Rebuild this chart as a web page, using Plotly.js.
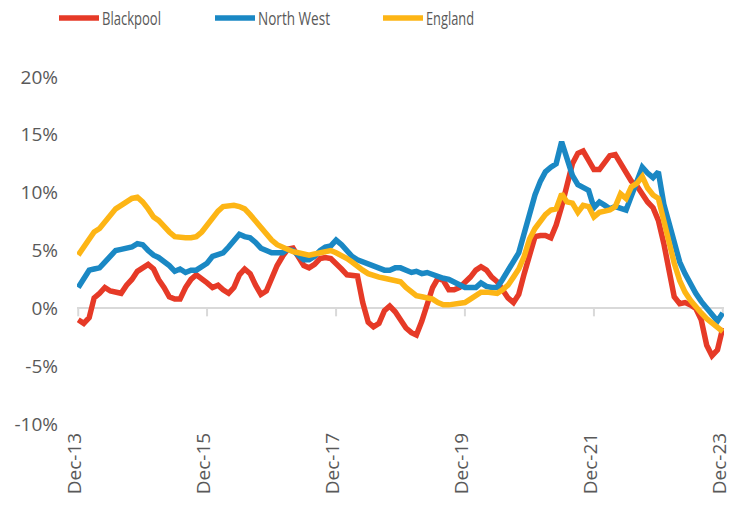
<!DOCTYPE html>
<html>
<head>
<meta charset="utf-8">
<script src="https://cdn.plot.ly/plotly-3.0.1.min.js"></script>
<style>html,body{margin:0;padding:0;background:#fff;}#chart{width:731px;height:508px;}</style>
</head>
<body>
<div id="chart"></div>
<script>
// Monthly categories Dec-2013 .. Dec-2023 (121 months)
const months = [];
for (let k = 0; k < 121; k++) {
  const y = 2013 + Math.floor((11 + k) / 12);
  const m = ((11 + k) % 12) + 1;
  months.push(y + '-' + String(m).padStart(2, '0') + '-01');
}

const seriesNames = ['Blackpool', 'North West', 'England'];

const blackpool = [
  -1.0,-1.3,-0.8,0.9,1.3,1.8,1.5,1.4,1.3,2.0,2.5,3.2,3.5,3.8,3.4,2.5,1.8,1.0,0.8,0.8,
  1.8,2.5,2.9,2.6,2.2,1.8,2.0,1.6,1.3,1.8,2.9,3.4,3.0,2.0,1.2,1.5,2.6,3.7,4.5,5.1,
  5.2,4.4,3.7,3.5,3.8,4.3,4.4,4.3,3.9,3.4,2.9,2.9,2.8,0.5,-1.2,-1.6,-1.3,-0.2,0.2,-0.3,
  -1.0,-1.7,-2.1,-2.3,-1.1,0.4,1.8,2.6,2.4,1.6,1.6,1.8,2.2,2.7,3.3,3.6,3.3,2.7,2.3,1.5,
  0.9,0.5,1.2,3.0,4.8,6.2,6.3,6.3,6.1,7.2,8.8,10.8,12.5,13.4,13.6,12.8,12.0,12.0,12.6,13.2,
  13.3,12.5,11.7,11.0,10.6,9.8,9.2,8.7,7.6,5.6,3.2,1.0,0.4,0.5,0.3,0.0,-1.0,-3.2,-4.1,-3.6,
  -1.7
];

const northWest = [
  1.8,2.6,3.3,3.4,3.5,4.0,4.6,5.0,5.1,5.2,5.3,5.6,5.5,5.0,4.6,4.4,4.1,3.7,3.2,3.4,
  3.1,3.3,3.3,3.6,3.9,4.5,4.7,4.8,5.3,5.9,6.4,6.2,6.1,5.7,5.2,5.0,4.8,4.8,4.8,5.1,
  5.0,4.6,4.2,4.2,4.5,5.0,5.3,5.4,5.9,5.5,5.0,4.5,4.2,4.0,3.8,3.6,3.4,3.3,3.3,3.5,
  3.5,3.3,3.1,3.2,3.0,3.1,2.9,2.7,2.6,2.5,2.3,2.0,1.8,1.8,1.8,2.2,1.9,1.8,1.8,2.5,
  3.3,4.0,4.8,6.5,8.3,9.8,11.0,11.8,12.2,12.5,14.4,12.9,11.5,10.7,10.4,10.2,8.7,9.2,8.9,8.6,
  8.8,8.7,8.5,9.7,11.0,12.2,11.7,11.3,11.8,9.0,7.3,5.6,4.0,3.0,2.1,1.3,0.6,0.0,-0.4,-1.1,
  -0.4
];

const england = [
  4.6,5.3,6.1,6.6,6.9,7.5,8.1,8.6,8.9,9.2,9.5,9.6,9.2,8.6,7.9,7.6,7.0,6.6,6.2,6.1,
  6.1,6.1,6.2,6.6,7.2,7.8,8.4,8.8,8.9,8.9,8.8,8.6,8.1,7.5,6.9,6.3,5.9,5.5,5.3,5.0,
  4.9,4.8,4.7,4.6,4.7,4.8,4.9,5.0,4.8,4.6,4.3,4.0,3.6,3.3,3.0,2.8,2.7,2.6,2.5,2.4,
  2.3,1.8,1.5,1.1,1.0,0.9,0.8,0.5,0.3,0.3,0.4,0.4,0.5,0.8,1.1,1.4,1.4,1.4,1.3,1.6,
  2.0,2.7,3.4,4.5,6.0,6.9,7.5,8.1,8.5,8.6,9.9,9.2,9.1,8.3,8.9,8.8,7.9,8.3,8.4,8.5,
  8.8,9.9,9.5,10.5,10.8,11.4,10.4,9.8,9.5,7.5,5.6,3.9,2.4,1.4,0.7,0.1,-0.4,-0.9,-1.3,-1.7,
  -2.0
];

const seriesColors = ['#E63A27', '#1A88C4', '#FDB515'];

const tickDates = ['2013-12-01','2015-12-01','2017-12-01','2019-12-01','2021-12-01','2023-12-01'];
const tickLabels = ['Dec-13','Dec-15','Dec-17','Dec-19','Dec-21','Dec-23'];
const yTicks = [-10, -5, 0, 5, 10, 15, 20];
const yTickLabels = ['-10%','-5%','0%','5%','10%','15%','20%'];

const values = [blackpool, northWest, england];
const traces = values.map((v, i) => ({
  x: months, y: v, type: 'scatter', mode: 'lines', name: seriesNames[i],
  line: {color: seriesColors[i], width: 5.5, shape: 'linear'},
  hoverinfo: 'skip'
}));

// small tick marks hanging below the zero line
const tickShapes = tickDates.map(d => ({
  type: 'line', xref: 'x', yref: 'y', x0: d, x1: d,
  ysizemode: 'pixel', yanchor: 0, y0: 0, y1: -8,
  line: {color: '#D9D9D9', width: 2}, layer: 'below'
}));

const layout = {
  width: 731, height: 508,
  margin: {l: 77, r: 7, t: 77, b: 84},
  paper_bgcolor: '#ffffff', plot_bgcolor: '#ffffff',
  font: {family: 'Open Sans, sans-serif', color: '#595959', size: 18},
  showlegend: true,
  legend: {
    orientation: 'h', x: -0.04, xanchor: 'left', y: 1.19, yanchor: 'top',
    font: {family: 'Open Sans, sans-serif', size: 18, color: '#595959'},
    itemgap: 30, bgcolor: 'rgba(0,0,0,0)'
  },
  xaxis: {
    type: 'date', range: ['2013-11-24', '2023-12-08'],
    tickmode: 'array', tickvals: tickDates, ticktext: tickLabels,
    tickangle: -90, ticks: '', showgrid: false, zeroline: false, showline: false,
    ticklabeloverflow: 'allow', ticklabelstandoff: 4, ticklabelshift: -3,
    tickfont: {family: 'Open Sans, sans-serif', size: 19, color: '#595959'},
    fixedrange: true
  },
  yaxis: {
    range: [-10, 20], tickmode: 'array', tickvals: yTicks, ticktext: yTickLabels,
    showgrid: false, zeroline: true, zerolinecolor: '#D9D9D9', zerolinewidth: 2,
    showline: false, ticks: '', ticklabelstandoff: 18,
    tickfont: {family: 'Open Sans, sans-serif', size: 19, color: '#595959'},
    fixedrange: true
  },
  shapes: tickShapes
};

// legend entry placement (line start x, line y) and condensed text widths
const legendLineStart = [59, 215, 383];
const legendLineY = 18;
const legendTextWidth = [59, 72, 48];

Plotly.newPlot('chart', traces, layout, {displayModeBar: false, staticPlot: true}).then(gd => {
  const svg = gd.querySelector('.main-svg');
  const sb = gd.querySelector('.legend .scrollbox');
  if (sb) sb.removeAttribute('clip-path');
  const lg = gd.querySelector('.legend');
  if (lg) lg.removeAttribute('clip-path');
  const svgRect = svg.getBoundingClientRect();
  gd.querySelectorAll('.legend .traces').forEach((g, i) => {
    const path = g.querySelector('.legendlines path');
    if (path) path.setAttribute('d', 'M0,0h40');
    const txt = g.querySelector('.legendtext');
    if (txt) {
      txt.setAttribute('x', 43);
      txt.setAttribute('textLength', legendTextWidth[i]);
      txt.setAttribute('lengthAdjust', 'spacingAndGlyphs');
    }
    const ctm = g.getScreenCTM();
    const absX = ctm.e - svgRect.left, absY = ctm.f - svgRect.top;
    const t = (g.getAttribute('transform') || '').match(/translate\(\s*([-\d.e]+)[ ,]+([-\d.e]+)\s*\)/);
    const ox = t ? parseFloat(t[1]) : 0, oy = t ? parseFloat(t[2]) : 0;
    g.setAttribute('transform', 'translate(' + (ox + legendLineStart[i] - absX) + ',' + (oy + legendLineY - absY) + ')');
  });
});
</script>
</body>
</html>
